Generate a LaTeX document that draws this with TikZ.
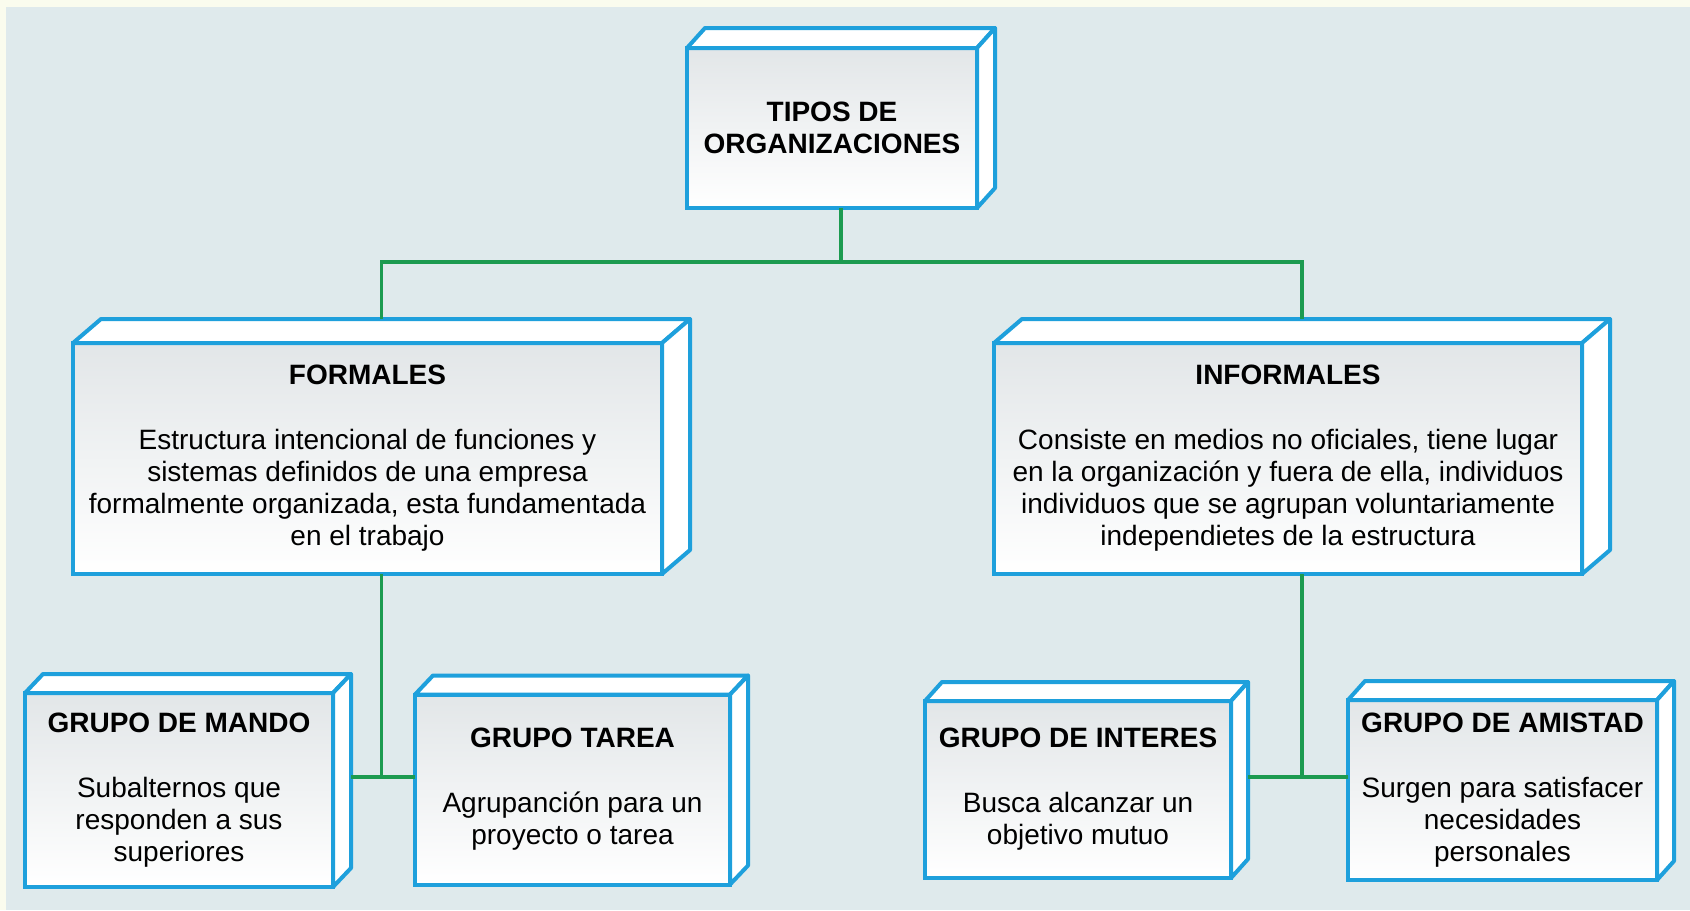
\documentclass[tikz,border=0pt]{standalone}
\usepackage{fontspec}
\setmainfont{Liberation Sans}
\usetikzlibrary{calc}

\definecolor{fondo}{RGB}{223,234,236}
\definecolor{crema}{RGB}{250,252,238}
\definecolor{azulcaja}{RGB}{30,160,220}
\definecolor{verde}{RGB}{28,155,80}
\definecolor{grisclaro}{RGB}{226,230,232}

\tikzset{
  caja/.style={rectangle, draw=azulcaja, line width=2pt, inner sep=0pt, outer sep=0pt,
    top color=grisclaro, bottom color=white, align=center,
    font=\fontsize{14}{16}\selectfont},
  cara/.style={draw=azulcaja, line width=2pt, fill=white, line join=round},
  conector/.style={draw=verde, line width=1.8pt},
}

% caras superior y lateral de una caja: nodo, dx, dy
\newcommand{\caras}[3]{%
  \draw[cara] (#1.north west) -- ($(#1.north west)+(#2,-#3)$) -- ($(#1.north east)+(#2,-#3)$) -- (#1.north east) -- cycle;
  \draw[cara] (#1.north east) -- ($(#1.north east)+(#2,-#3)$) -- ($(#1.south east)+(#2,-#3)$) -- (#1.south east) -- cycle;
}

\begin{document}
\begin{tikzpicture}[x=0.5pt,y=-0.5pt]
\useasboundingbox (0,0) rectangle (1690,910);
\fill[crema] (0,0) rectangle (1690,910);
\fill[fondo] (6,7) rectangle (1690,910);

% cajas
\node[caja, minimum width=145pt, minimum height=80pt] (tipos) at (832,128)
  {\textbf{TIPOS DE}\\\textbf{ORGANIZACIONES}};
\caras{tipos}{18}{20}

\node[caja, minimum width=294.5pt, minimum height=115.5pt] (formal) at (367.5,458.5)
  {\textbf{FORMALES}\\[16.5pt]Estructura intencional de funciones y\\sistemas definidos de una empresa\\formalmente organizada, esta fundamentada\\en el trabajo};
\caras{formal}{28}{24}

\node[caja, minimum width=294pt, minimum height=115.5pt] (informal) at (1288,458.5)
  {\textbf{INFORMALES}\\[16.5pt]Consiste en medios  no oficiales, tiene lugar\\en la organización y fuera de ella, individuos\\individuos que se agrupan voluntariamente\\independietes de la estructura};
\caras{informal}{28}{24}

\node[caja, minimum width=154pt, minimum height=97pt] (mando) at (179,790)
  {\textbf{GRUPO DE MANDO}\\[16.5pt]Subalternos que\\responden a sus\\superiores};
\caras{mando}{18}{19}

\node[caja, minimum width=157.5pt, minimum height=95pt] (tarea) at (572.5,789.5)
  {\textbf{GRUPO TAREA}\\[16.5pt]Agrupanción para un\\proyecto o tarea};
\caras{tarea}{18}{19}

\node[caja, minimum width=153pt, minimum height=88.5pt] (interes) at (1078,789.5)
  {\textbf{GRUPO DE INTERES}\\[16.5pt]Busca alcanzar un\\objetivo mutuo};
\caras{interes}{17}{19}

\node[caja, minimum width=154.5pt, minimum height=90pt] (amistad) at (1502.5,790)
  {\textbf{GRUPO DE AMISTAD}\\[16.5pt]Surgen para satisfacer\\necesidades\\personales};
\caras{amistad}{17}{19}

% puntos de union
\coordinate (tipos-b) at ($(tipos.south)+(9,0)$);
\coordinate (ramal) at (840,262);
\coordinate (formal-t) at ($(formal.north)+(14,-24)$);
\coordinate (informal-t) at ($(informal.north)+(14,-24)$);
\coordinate (formal-b) at ($(formal.south)+(14,0)$);
\coordinate (informal-b) at ($(informal.south)+(14,0)$);
\coordinate (bajoF) at (381.5,777);
\coordinate (bajoI) at (1302,777);
\coordinate (mando-l) at ($(mando.east)+(18,0)$);
\coordinate (interes-l) at ($(interes.east)+(17,0)$);

% conectores
\draw[conector] (tipos-b) -- (tipos-b |- ramal);
\draw[conector] (formal-t) |- (ramal) -| (informal-t);
\draw[conector] (formal-b) -- (formal-b |- bajoF);
\draw[conector] (mando-l |- bajoF) -- (tarea.west |- bajoF);
\draw[conector] (informal-b) -- (informal-b |- bajoI);
\draw[conector] (interes-l |- bajoI) -- (amistad.west |- bajoI);

\end{tikzpicture}
\end{document}
